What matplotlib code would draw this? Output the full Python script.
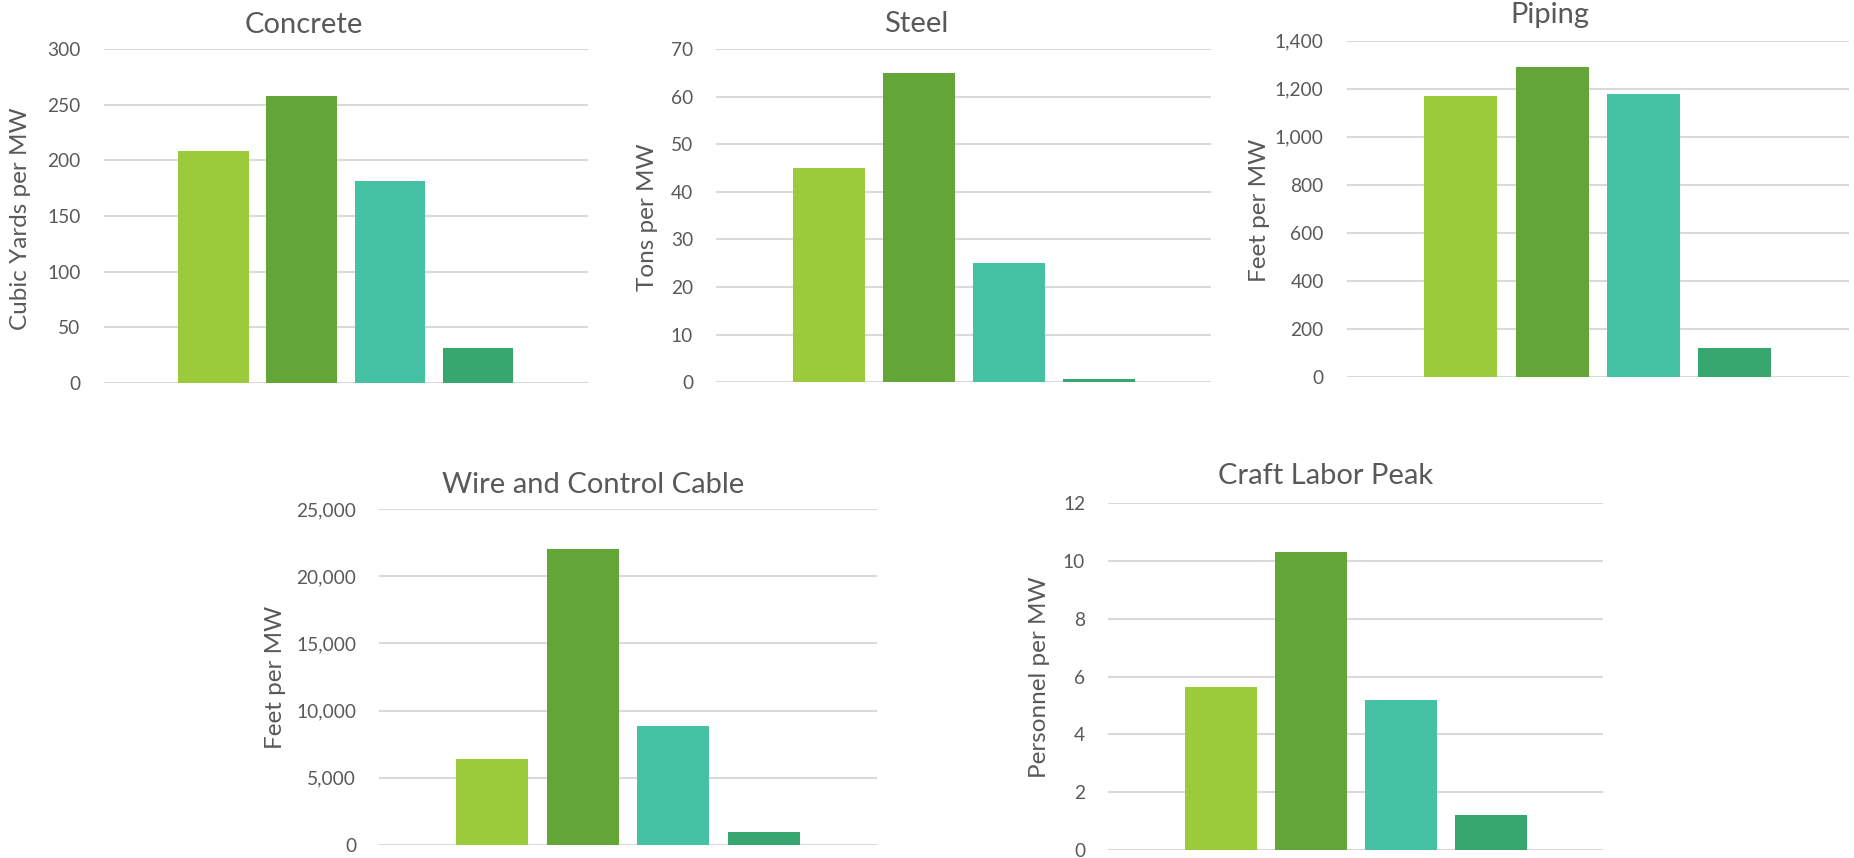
import matplotlib
matplotlib.use("Agg")
import matplotlib.pyplot as plt
from matplotlib.ticker import FuncFormatter, MultipleLocator

plt.rcParams["font.family"] = ["Lato", "DejaVu Sans"]

# four technologies per panel (no legend in the source chart)
bar_colors = ["#9BCB3B", "#63A537", "#45C1A4", "#37A76F"]

titles = ["Concrete", "Steel", "Piping", "Wire and Control Cable", "Craft Labor Peak"]
ylabels = ["Cubic Yards per MW", "Tons per MW", "Feet per MW", "Feet per MW", "Personnel per MW"]

concrete = [208, 258, 181, 31]
steel = [45, 65, 25, 0.6]
piping = [1170, 1290, 1180, 122]
wire = [6400, 22000, 8850, 1000]
craft = [5.65, 10.3, 5.2, 1.2]

y_max = [300, 70, 1400, 25000, 12]
y_step = [50, 10, 200, 5000, 2]

W, H = 1854, 858
TEXT = "#595959"
GRID = "#D9D9D9"

# layout in pixels: axes (left, right, top, bottom), title (x, baseline), ylabel (x, y)
axes_px = [
    (103.5, 588, 49, 383),
    (716, 1211, 49, 382.3),
    (1346.6, 1849, 40.7, 377.3),
    (379, 877, 509, 845),
    (1108, 1603, 503, 850),
]
title_px = [(304, 33.3), (916, 31.5), (1550, 23.5), (593, 493), (1326, 483.5)]
ylabel_px = [(21, 219), (648, 217), (1260, 210), (275, 677), (1039, 677)]

fig = plt.figure(figsize=(W / 100, H / 100), dpi=100)

data = [concrete, steel, piping, wire, craft]
for i, values in enumerate(data):
    l, r, t, b = axes_px[i]
    ax = fig.add_axes([l / W, 1 - b / H, (r - l) / W, (b - t) / H])
    ax.bar(range(len(values)), values, width=0.8, color=bar_colors, zorder=2)
    ax.set_xlim(-1.25, len(values) + 0.25)
    ax.set_ylim(0, y_max[i])
    ax.yaxis.set_major_locator(MultipleLocator(y_step[i]))
    ax.yaxis.set_major_formatter(FuncFormatter(lambda v, p: f"{v:,.0f}"))
    ax.grid(axis="y", color=GRID, linewidth=1.5, zorder=0)
    ax.set_axisbelow(True)
    for s in ax.spines.values():
        s.set_visible(False)
    ax.set_xticks([])
    ax.tick_params(axis="y", length=0, pad=16.5, labelsize=13.8, labelcolor=TEXT)
    for lbl in ax.get_yticklabels():
        lbl.set_clip_on(False)

    tx, ty = title_px[i]
    fig.text(tx / W, 1 - ty / H, titles[i], ha="center", va="baseline",
             fontsize=21, color=TEXT)
    lx, ly = ylabel_px[i]
    fig.text(lx / W, 1 - ly / H, ylabels[i], ha="center", va="center",
             rotation=90, fontsize=17.5, color=TEXT)

fig.savefig("out.png", dpi=100)
plt.close(fig)
